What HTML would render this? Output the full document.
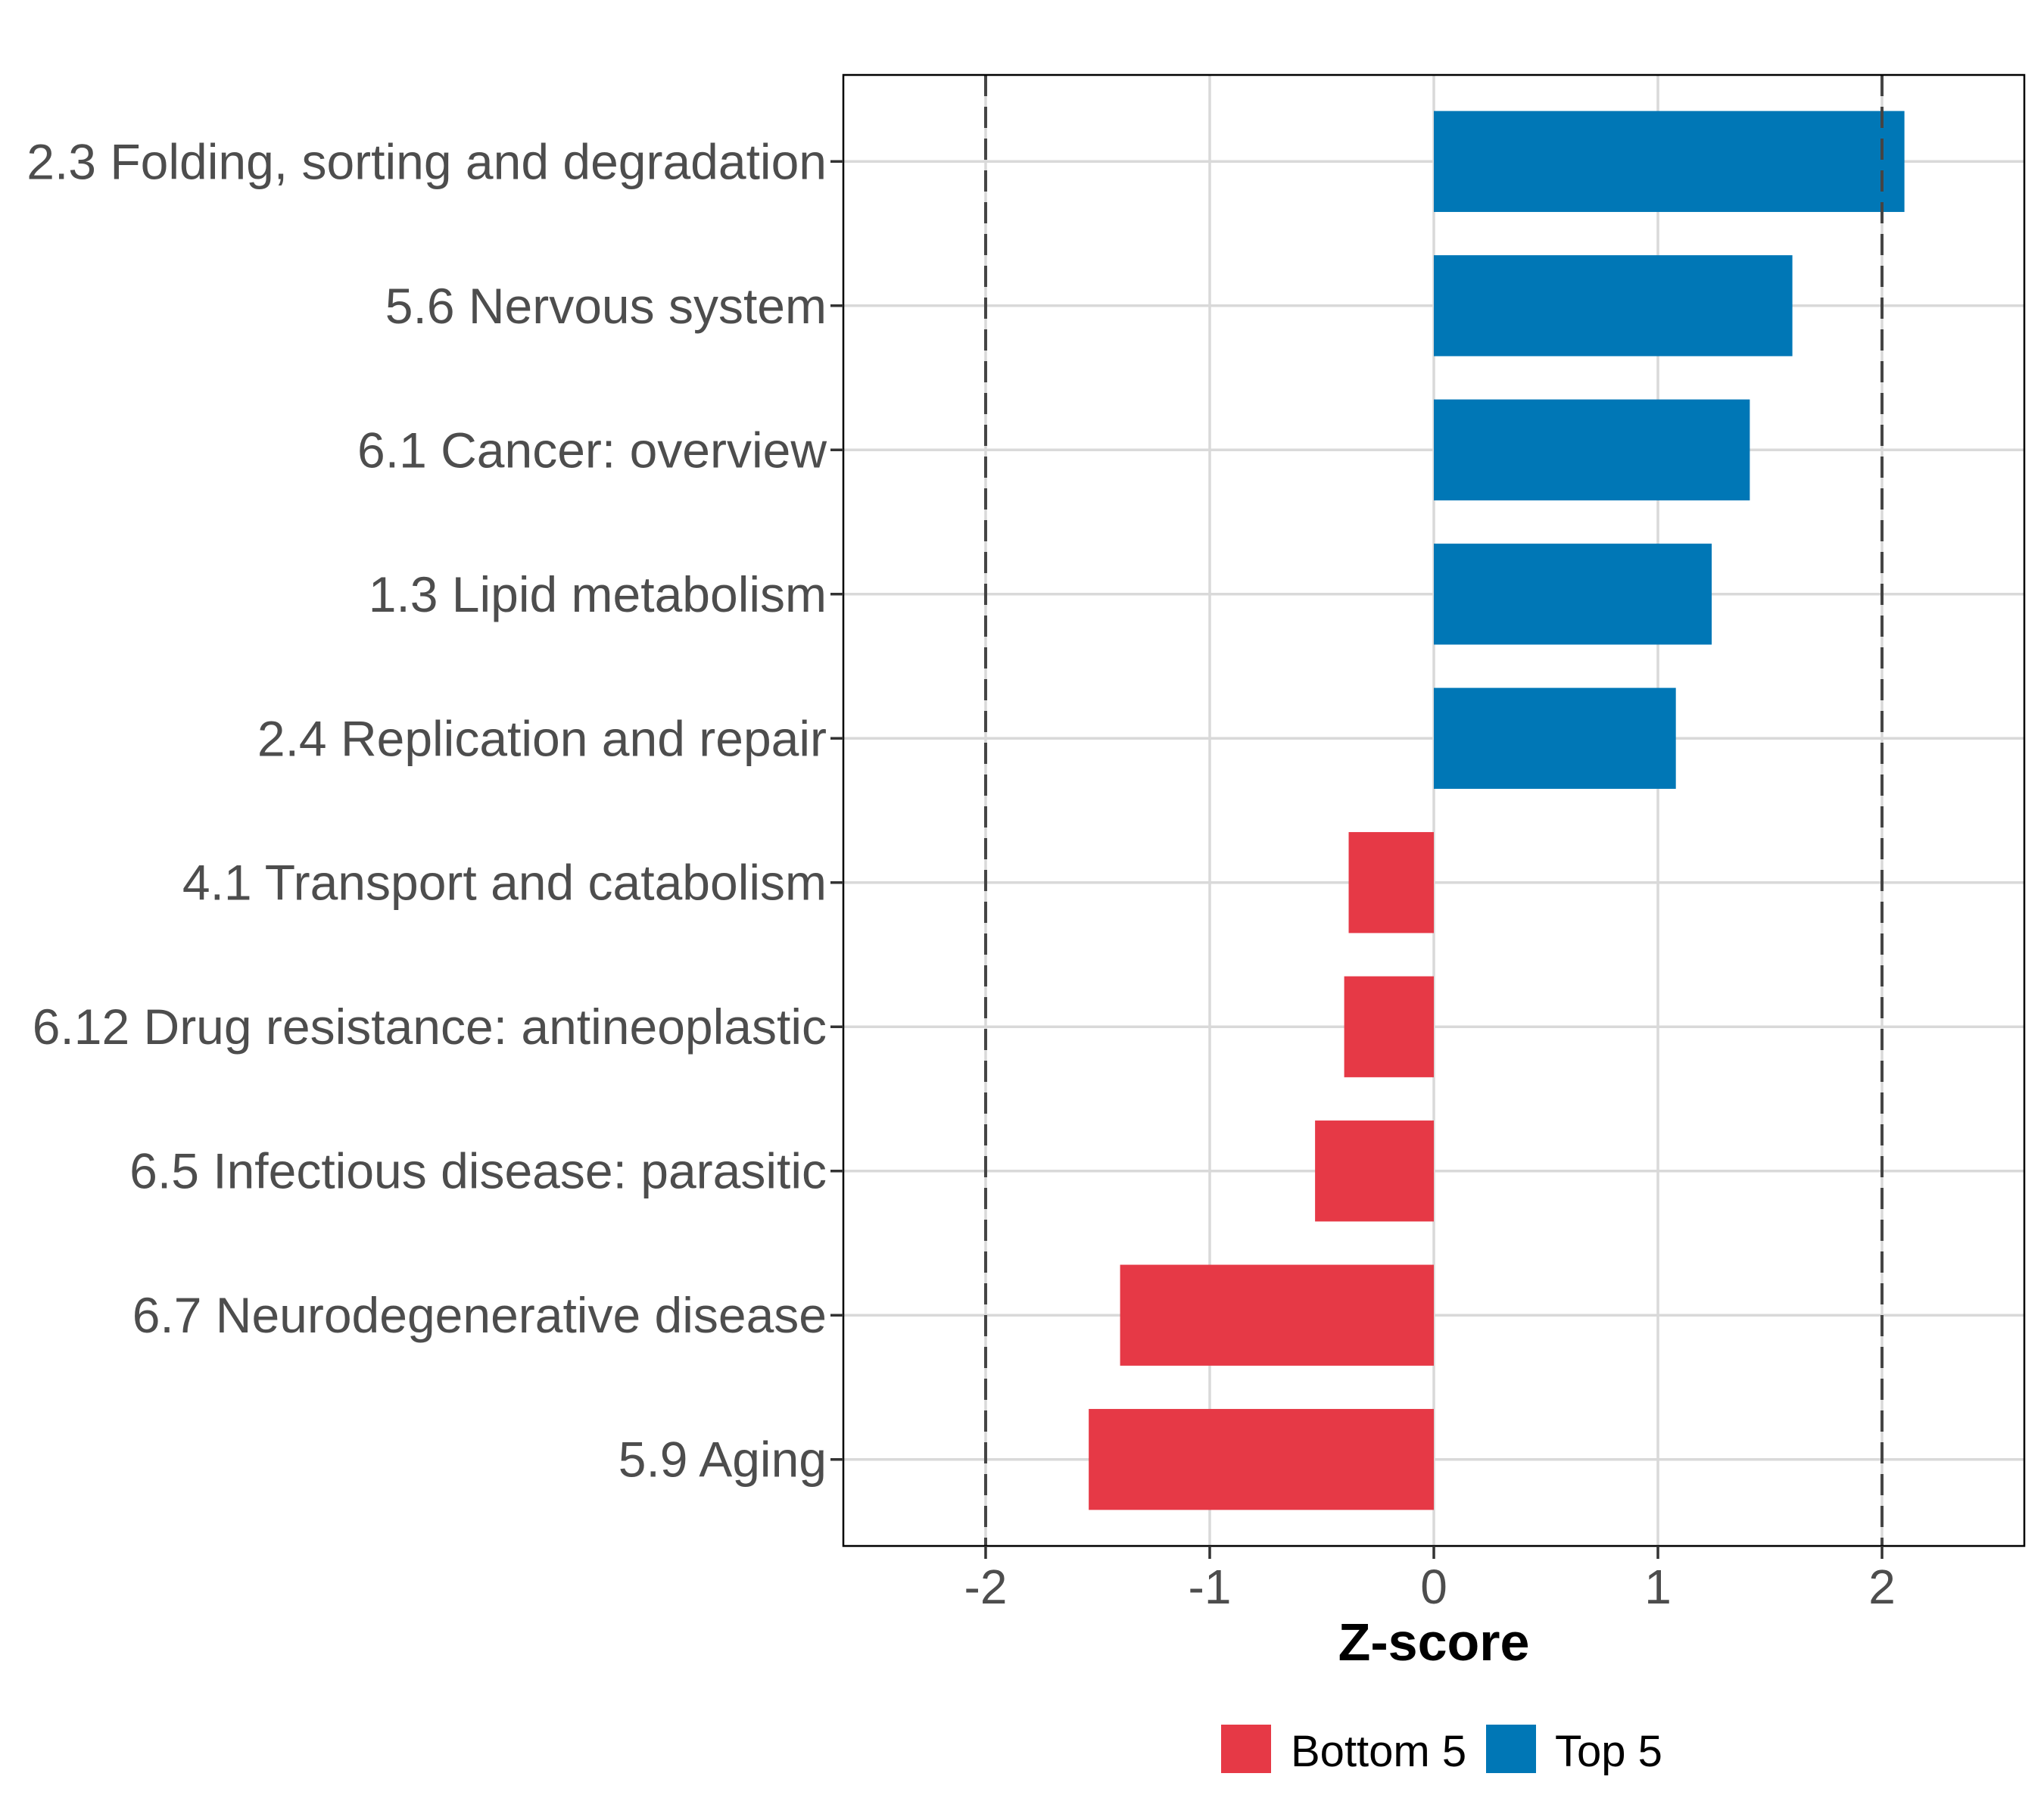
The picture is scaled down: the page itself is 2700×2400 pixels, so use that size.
<!DOCTYPE html>
<html><head><meta charset="utf-8"><style>body{margin:0;background:#fff}svg{display:block}text{font-family:"Liberation Sans",Arial,sans-serif}</style></head>
<body>
<svg id="chart" width="2700" height="2400" viewBox="0 0 2700 2400" xmlns="http://www.w3.org/2000/svg">
<g id="grid"></g>
<g id="bars"></g>
<g id="refs"></g>
<rect x="1114" y="99" width="1560" height="1943" fill="none" stroke="#000" stroke-width="2.5"/>
<g id="yaxis"></g>
<g id="xaxis"></g>
<text x="1894" y="2193" text-anchor="middle" font-size="70" font-weight="bold" fill="#000">Z-score</text>
<g>
<rect x="1613" y="2278" width="66" height="64" fill="#E63946"/>
<text x="1705" y="2333" font-size="58" fill="#000">Bottom 5</text>
<rect x="1963" y="2278" width="66" height="64" fill="#0077B6"/>
<text x="2054" y="2333" font-size="58" fill="#000">Top 5</text>
</g>
</svg>
<script>
const categories = ["2.3 Folding, sorting and degradation","5.6 Nervous system","6.1 Cancer: overview","1.3 Lipid metabolism","2.4 Replication and repair","4.1 Transport and catabolism","6.12 Drug resistance: antineoplastic","6.5 Infectious disease: parasitic","6.7 Neurodegenerative disease","5.9 Aging"];
const zscores = [2.10, 1.60, 1.41, 1.24, 1.08, -0.38, -0.40, -0.53, -1.40, -1.54];
const groups = ["Top 5","Top 5","Top 5","Top 5","Top 5","Bottom 5","Bottom 5","Bottom 5","Bottom 5","Bottom 5"];
const xTicks = [-2, -1, 0, 1, 2];
const xTickLabels = ["-2","-1","0","1","2"];
const refValues = [-2, 2];

const NS = "http://www.w3.org/2000/svg";
const PL = 1114, PR = 2674, PT = 99, PB = 2042;
const XMIN = -2.635, XMAX = 2.635;
const x = v => PL + (v - XMIN) / (XMAX - XMIN) * (PR - PL);
const step = (PB - PT) / (categories.length + 0.2);
const y = i => PT + step * 0.6 + i * step;
const barH = step * 0.7;
const colors = {"Top 5": "#0077B6", "Bottom 5": "#E63946"};
function mk(tag, attrs, parent) { const e = document.createElementNS(NS, tag); for (const k in attrs) e.setAttribute(k, attrs[k]); parent.appendChild(e); return e; }
const grid = document.getElementById('grid'), bars = document.getElementById('bars'), refs = document.getElementById('refs'), yaxis = document.getElementById('yaxis'), xaxis = document.getElementById('xaxis');

xTicks.forEach((t, i) => {
  const g = mk('line', {x1: x(t), x2: x(t), y1: PT, y2: PB, stroke: '#d9d9d9', 'stroke-width': 3.5}, grid);
  
  
  const tk = mk('line', {x1: x(t), x2: x(t), y1: PB, y2: PB + 17, stroke: '#333', 'stroke-width': 3.5}, xaxis);
  
  
  const lb = mk('text', {x: x(t), y: PB + 76, 'text-anchor': 'middle', 'font-size': 64, fill: '#4d4d4d'}, xaxis);
  lb.textContent = xTickLabels[i];
  
  
});
categories.forEach((c, i) => {
  const g = mk('line', {x1: PL, x2: PR, y1: y(i), y2: y(i), stroke: '#d9d9d9', 'stroke-width': 3.5}, grid);
  
  
  const v = zscores[i];
  const r = mk('rect', {x: Math.min(x(0), x(v)), y: y(i) - barH / 2, width: Math.abs(x(v) - x(0)), height: barH, fill: colors[groups[i]]}, bars);
  
  
  const tk = mk('line', {x1: PL - 17, x2: PL, y1: y(i), y2: y(i), stroke: '#333', 'stroke-width': 3.5}, yaxis);
  
  
  const lb = mk('text', {x: PL - 22, y: y(i) + 23, 'text-anchor': 'end', 'font-size': 66, fill: '#4d4d4d'}, yaxis);
  lb.textContent = c;
  
  
});
refValues.forEach(v => {
  const l = mk('line', {x1: x(v), x2: x(v), y1: PT, y2: PB, stroke: '#444', 'stroke-width': 4, 'stroke-dasharray': '28 14'}, refs);
  
  
});
</script>
</body></html>
